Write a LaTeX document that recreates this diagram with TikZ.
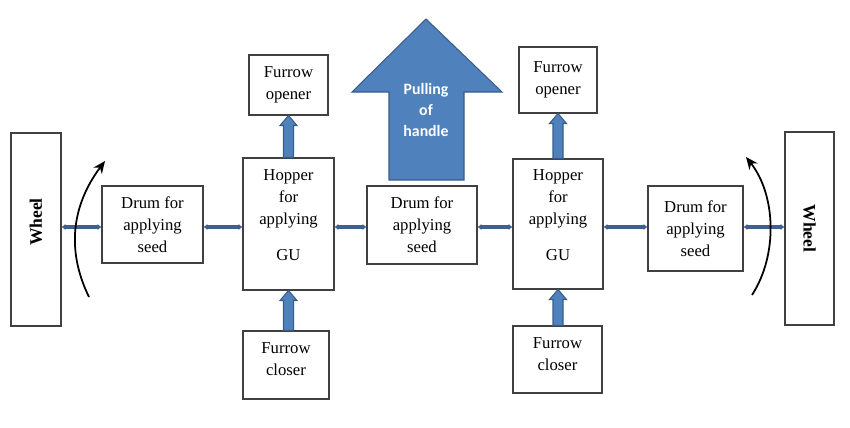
\documentclass[tikz,border=0pt]{standalone}
\usepackage{fontspec}
\setmainfont{Liberation Serif}
\newfontfamily\pullfont{Carlito}
\usetikzlibrary{arrows.meta,calc}

\definecolor{linkblue}{RGB}{60,96,146}
\definecolor{arrowfill}{RGB}{79,129,189}
\definecolor{arrowline}{RGB}{56,93,138}
\definecolor{boxline}{RGB}{64,64,64}

% block arrow pointing up: #1 bottom point, #2 tip
\newcommand{\blockup}[2]{%
  \path[blockarrow] ($(#1)+(-5,0)$) -- ($(#2)+(-5,10)$) -- ($(#2)+(-8.5,10)$)
    -- (#2) -- ($(#2)+(8.5,10)$) -- ($(#2)+(5,10)$) -- ($(#1)+(5,0)$) -- cycle;}

\tikzset{
  unit/.style={draw=boxline, line width=0.6pt, align=center, inner sep=0pt,
    font=\fontsize{9.5}{12.5}\selectfont},
  wheelbox/.style={unit, minimum width=1cm, minimum height=3.86cm,
    font=\fontsize{10}{12}\selectfont\bfseries},
  link/.style={draw=linkblue, line width=2.3pt,
    {Latex[length=2.2pt,width=3.6pt]}-{Latex[length=2.2pt,width=3.6pt]}},
  blockarrow/.style={fill=arrowfill, draw=arrowline, line width=0.6pt},
  turn/.style={line width=1pt, -{Stealth[length=7pt,width=6pt]}},
}

\begin{document}
\begin{tikzpicture}[x=0.02cm, y=-0.02cm]
        \useasboundingbox (0,0) rectangle (850,427);
        \coordinate (axis) at (0,227);

        % wheels
        \node[wheelbox] (wheelL) at (36,229.5) {\rotatebox{90}{Wheel}\\[-3.5pt]\mbox{}};
        \node[wheelbox, minimum width=0.98cm] (wheelR) at (809.5,228.5) {\rotatebox{-90}{Wheel}};

        % drums and hoppers
        \node[unit, minimum width=2.02cm, minimum height=1.54cm] (drumA) at (152.5,224.5) {Drum for\\applying\\seed};
        \node[unit, minimum width=1.82cm, minimum height=2.64cm] (hopA) at (288.5,224) {Hopper\\for\\applying\\[8pt]GU\\[-2pt]\mbox{}};
        \node[unit, minimum width=2.2cm, minimum height=1.56cm] (drumB) at (422,225) {Drum for\\applying\\seed};
        \node[unit, minimum width=1.8cm, minimum height=2.6cm] (hopB) at (558,224) {Hopper\\for\\applying\\[8pt]GU\\[-2pt]\mbox{}};
        \node[unit, minimum width=1.9cm, minimum height=1.7cm] (drumC) at (695.5,228.5) {Drum for\\applying\\seed};

        % furrow openers and closers
        \node[unit, minimum width=1.58cm, minimum height=1.2cm] (openA) at (288.5,85) {Furrow\\opener};
        \node[unit, minimum width=1.56cm, minimum height=1.32cm] (openB) at (558,80) {Furrow\\opener};
        \node[unit, minimum width=1.72cm, minimum height=1.36cm] (closeA) at (286,365) {Furrow\\closer\\[-6pt]\mbox{}};
        \node[unit, minimum width=1.78cm, minimum height=1.34cm] (closeB) at (557.5,359.5) {Furrow\\closer\\[-6pt]\mbox{}};

        % shafts between the parts
        \draw[link] (wheelL.east |- axis) -- (drumA.west |- axis);
        \draw[link] (drumA.east |- axis) -- (hopA.west |- axis);
        \draw[link] (hopA.east |- axis) -- (drumB.west |- axis);
        \draw[link] (drumB.east |- axis) -- (hopB.west |- axis);
        \draw[link] (hopB.east |- axis) -- (drumC.west |- axis);
        \draw[link] (drumC.east |- axis) -- (wheelR.west |- axis);

        % block arrows to openers and from closers
        \blockup{hopA.north}{openA.south -| hopA.north}
        \blockup{hopB.north}{openB.south -| hopB.north}
        \blockup{closeA.north -| hopA.south}{hopA.south}
        \blockup{closeB.north -| hopB.south}{hopB.south}

        % pulling of handle
        \path[blockarrow] (389,180) -- (389,92) -- (352,92) -- (426,19)
            -- (502,92) -- (464,92) -- (464,180) -- cycle;
        \node[text=white, align=center, font=\pullfont\bfseries\fontsize{9}{12.2}\selectfont] (pull) at (426,110) {Pulling\\of\\handle};

        % turning of the wheels
        \draw[turn] (89,297) .. controls (66,250) and (72,205) .. (105,161);
        \draw[turn] (752,295) .. controls (778,255) and (776,195) .. (746,157);
\end{tikzpicture}
\end{document}
